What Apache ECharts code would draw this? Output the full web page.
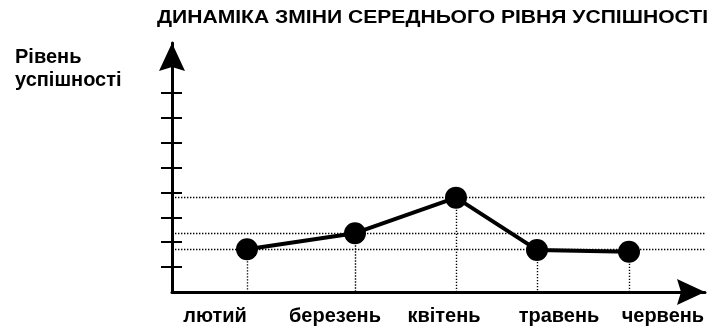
<!DOCTYPE html>
<html>
<head>
<meta charset="utf-8">
<script src="https://cdn.jsdelivr.net/npm/echarts@6/dist/echarts.min.js"></script>
<style>
  html, body { margin: 0; padding: 0; background: #fff; }
  #chart { width: 719px; height: 329px; }
</style>
</head>
<body>
<div id="chart"></div>
<script>
// Months and where each one sits along the horizontal scale
const months = ['лютий', 'березень', 'квітень', 'травень', 'червень'];
const monthPos = [1.407, 3.433, 5.328, 6.848, 8.574];
// Where each month caption is centred along the same scale
const labelPos = [0.807, 3.058, 5.103, 7.26, 9.21];
// Average achievement level for each month
const levels = [1.72, 2.36, 3.79, 1.69, 1.62];
// Tick marks on the vertical scale
const levelTicks = [1, 2, 3, 4, 5, 6, 7, 8];
// Levels that get a dotted guide across the plot
const guideLevels = [levels[2], levels[1], levels[0]];

const titleText = 'ДИНАМІКА ЗМІНИ СЕРЕДНЬОГО РІВНЯ УСПІШНОСТІ';
const yName = 'Рівень\nуспішності';

const FONT = '"Liberation Sans", Arial, Helvetica, sans-serif';
const TITLE_SIZE = 18;
const TITLE_WIDTH = 551;

// The heading is set in a wide face: stretch it to its column
const ctx = document.createElement('canvas').getContext('2d');
ctx.font = 'bold ' + TITLE_SIZE + 'px ' + FONT;
const titleScale = TITLE_WIDTH / ctx.measureText(titleText).width;

const X_MAX = 10;
const Y_MAX = 10;
const dotted = { color: '#000', width: 1.4, type: [1.4, 1.6] };
// solid dart with a shallow notch, tip pointing along the axis
const ARROW = 'path://M0,0L13,28L0,24L-13,28Z';

const guideLines = guideLevels.map(v => [{ coord: [0, v] }, { coord: [X_MAX, v] }]);
const dropLines = monthPos.map((x, i) => [{ coord: [x, levels[i]] }, { coord: [x, 0] }]);

const axisLine = {
  show: true,
  onZero: false,
  symbol: ['none', ARROW],
  symbolSize: [26, 28],
  symbolOffset: [0, -14],
  lineStyle: { color: '#000', width: 3 }
};

const chart = echarts.init(document.getElementById('chart'), null, { renderer: 'canvas' });

chart.setOption({
  animation: false,
  backgroundColor: '#fff',
  textStyle: { fontFamily: FONT },
  title: {
    text: yName,
    left: 15,
    top: 46,
    padding: 0,
    textStyle: { fontFamily: FONT, fontSize: 20, fontWeight: 'bold', color: '#000', lineHeight: 23 }
  },
  graphic: [{
    type: 'text',
    x: 157,
    y: 9,
    scaleX: titleScale,
    style: {
      text: titleText,
      font: 'bold ' + TITLE_SIZE + 'px ' + FONT,
      fill: '#000',
      textVerticalAlign: 'top'
    }
  }],
  grid: { left: 172, right: 14, top: 43, bottom: 37, containLabel: false },
  xAxis: {
    type: 'value',
    min: 0,
    max: X_MAX,
    splitLine: { show: false },
    axisTick: { show: false },
    axisLine: axisLine,
    axisLabel: {
      customValues: labelPos,
      formatter: v => months[labelPos.indexOf(v)],
      margin: 14,
      color: '#000',
      fontFamily: FONT,
      fontSize: 20,
      fontWeight: 'bold'
    }
  },
  yAxis: [{
    type: 'value',
    min: 0,
    max: Y_MAX,
    splitLine: { show: false },
    axisLabel: { show: false },
    axisLine: axisLine,
    axisTick: {
      show: true,
      customValues: levelTicks,
      length: 11,
      lineStyle: { color: '#000', width: 2 }
    }
  }, {
    // same scale again, ticks pointing inward so each mark crosses the axis
    type: 'value',
    position: 'left',
    min: 0,
    max: Y_MAX,
    splitLine: { show: false },
    axisLabel: { show: false },
    axisLine: { show: false },
    axisTick: {
      show: true,
      inside: true,
      customValues: levelTicks,
      length: 10,
      lineStyle: { color: '#000', width: 2 }
    }
  }],
  series: [{
    type: 'line',
    yAxisIndex: 0,
    data: monthPos.map((x, i) => [x, levels[i]]),
    symbol: 'circle',
    symbolSize: 22,
    itemStyle: { color: '#000' },
    lineStyle: { color: '#000', width: 4 },
    clip: false,
    z: 5,
    markLine: {
      silent: true,
      symbol: 'none',
      label: { show: false },
      lineStyle: dotted,
      emphasis: { disabled: true },
      data: guideLines.concat(dropLines)
    }
  }]
});
</script>
</body>
</html>
